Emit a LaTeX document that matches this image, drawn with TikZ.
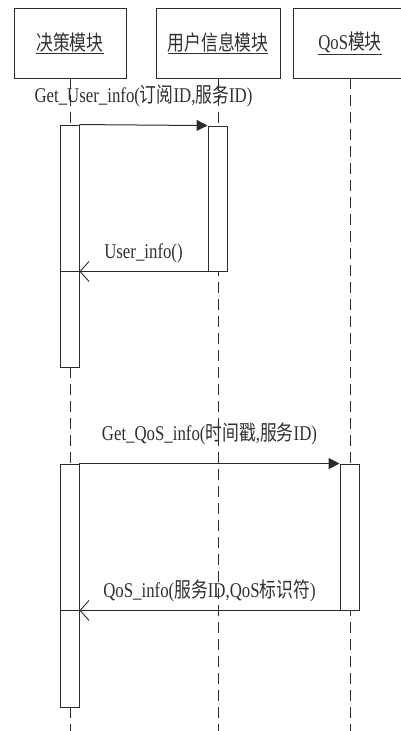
\documentclass[tikz,border=0pt]{standalone}
\usepackage{fontspec}
\setmainfont{Liberation Serif}[FakeStretch=0.8]
\newfontfamily\cjk{Noto Sans CJK SC}[FakeStretch=0.8]
\usepackage{xcolor}
\usepackage{tikz}
\usetikzlibrary{arrows.meta,calc,positioning}
\definecolor{Ink}{HTML}{2B2B2B}
\definecolor{Label}{HTML}{303030}
\newcommand{\zh}[1]{{\cjk #1}}

\begin{document}
\begin{tikzpicture}[x=1pt,y=-1pt,
  objbox/.style={draw=Ink,line width=0.9pt,minimum height=70pt,inner sep=0pt,font=\fontsize{21}{24}\selectfont,text=Label},
  lifeline/.style={draw=Ink,line width=0.9pt,dash pattern=on 11pt off 6pt},
  actbar/.style={draw=Ink,fill=white,line width=0.9pt,minimum width=19pt,inner sep=0pt},
  call/.style={draw=Ink,line width=1pt,-{Triangle[length=11pt,width=11pt]}},
  reply/.style={draw=Ink,line width=0.9pt,-{Straight Barb[length=9pt,width=20pt,line width=0.9pt]}},
  msg/.style={font=\fontsize{21}{24}\selectfont,text=Label,inner sep=0pt}
]
\useasboundingbox (0,0) rectangle (401,731);

% objects
\node[objbox,minimum width=112pt] (decide) at (70,43) {\underline{\zh{决策模块}}};
\node[objbox,minimum width=124pt] (user) at (218,43) {\underline{\zh{用户信息模块}}};
\node[objbox,minimum width=114pt] (qos) at (350,43) {\underline{QoS\zh{模块}}};

\coordinate (decideEnd) at (70,731);
\coordinate (userEnd) at (218,731);
\coordinate (qosEnd) at (350,731);

\draw[lifeline] (decide.south) -- (decideEnd);
\draw[lifeline] (user.south) -- (userEnd);
\draw[lifeline] (qos.south) -- (qosEnd);

% activations
\node[actbar,minimum height=146pt] (d1a) at (69.5,198) {};
\node[actbar,minimum height=96pt] (d1b) at (69.5,319) {};
\node[actbar,minimum height=145pt] (u1) at (217.5,198.5) {};
\node[actbar,minimum height=146pt] (d2a) at (69.5,537) {};
\node[actbar,minimum height=97pt] (d2b) at (69.5,658.5) {};
\node[actbar,minimum height=146pt] (q1) at (349.5,537) {};

% messages
\draw[call] (d1a.north east) -- node[msg,above=18pt] (m1) {Get\_User\_info(\zh{订阅}ID,\zh{服务}ID)} (u1.north west);
\draw[reply] (u1.south west) -- node[msg,above=8pt] (m2) {User\_info()} (d1a.south east);
\draw[call] (d2a.north east) -- node[msg,above=18pt] (m3) {Get\_QoS\_info(\zh{时间戳},\zh{服务}ID)} (q1.north west);
\draw[reply] (q1.south west) -- node[msg,above=8pt] (m4) {QoS\_info(\zh{服务}ID,QoS\zh{标识符})} (d2a.south east);
\end{tikzpicture}
\end{document}
